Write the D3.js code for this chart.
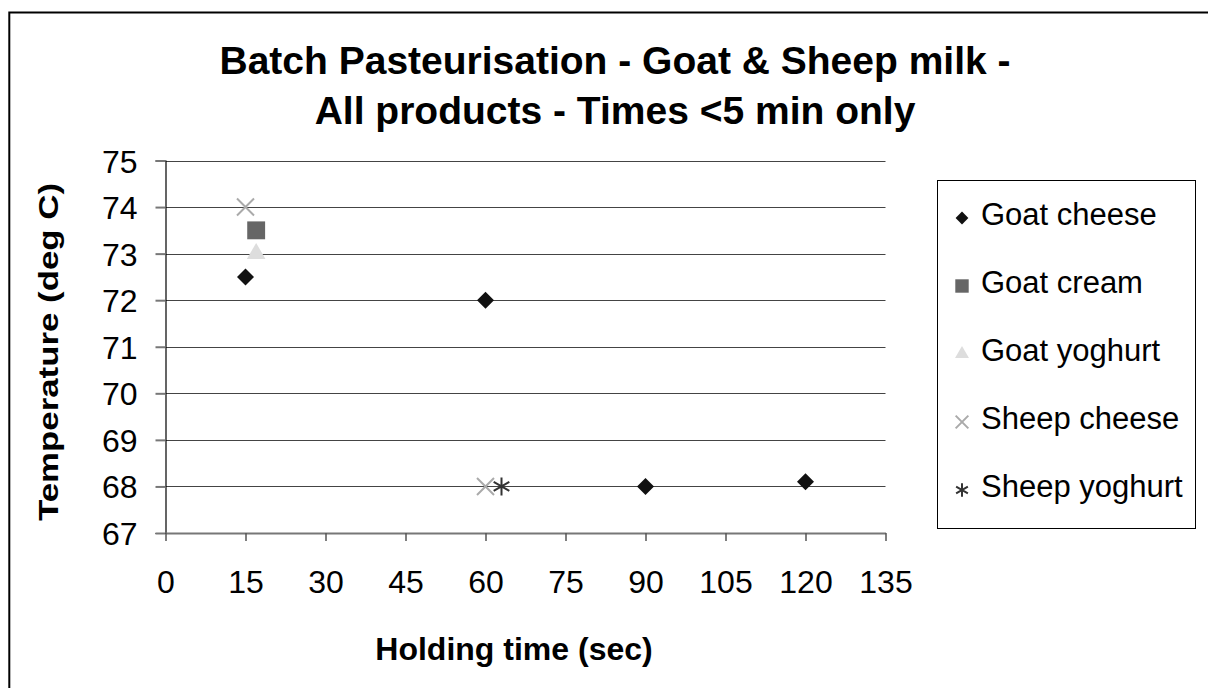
<!DOCTYPE html>
<head>
  <meta charset="utf-8">
  <script src="https://d3js.org/d3.v7.min.js"></script>
  <style>
body { margin:0; background:#fff; }
text { font-family: "Liberation Sans", Arial, sans-serif; fill:#000; }
.title { font-size: 39px; font-weight: bold; }
.axlabel { font-size: 32px; font-weight: bold; }
.tick text { font-size: 32px; font-family: "Liberation Sans", Arial, sans-serif; }
.legend text { font-size: 31px; }
  </style>
</head>
<body>
<script>
// series names
const seriesNames = ['Goat cheese', 'Goat cream', 'Goat yoghurt', 'Sheep cheese', 'Sheep yoghurt']
// holding time (sec) and temperature (deg C) per series
const goatCheeseX = [15, 60, 90, 120]
const goatCheeseY = [72.5, 72, 68, 68.1]
const goatCreamX = [17]
const goatCreamY = [73.5]
const goatYoghurtX = [17]
const goatYoghurtY = [73]
const sheepCheeseX = [15, 60]
const sheepCheeseY = [74, 68]
const sheepYoghurtX = [63]
const sheepYoghurtY = [68]
const xTicks = [0, 15, 30, 45, 60, 75, 90, 105, 120, 135]
const yTicks = [67, 68, 69, 70, 71, 72, 73, 74, 75]

const W = 1208, H = 688
const plot = { left: 165.5, right: 885.5, top: 160.5, bottom: 533 }

const svg = d3.select('body').append('svg').attr('width', W).attr('height', H)

// outer frame (runs off the right/bottom edge)
svg.append('rect').attr('x', 9.3).attr('y', 12.5).attr('width', 1240).attr('height', 720)
  .attr('fill', 'none').attr('stroke', '#000').attr('stroke-width', 2)

const x = d3.scaleLinear().domain([0, 135]).range([plot.left, plot.right])
const y = d3.scaleLinear().domain([67, 75]).range([plot.bottom, plot.top])

// gridlines
svg.append('g').selectAll('line').data(yTicks.filter(d => d > 67))
  .join('line')
  .attr('x1', plot.left).attr('x2', plot.right)
  .attr('y1', d => Math.round(y(d)) + 0.5).attr('y2', d => Math.round(y(d)) + 0.5)
  .attr('stroke', '#444').attr('stroke-width', 1)

// y axis
const yAxis = svg.append('g').attr('transform', `translate(${plot.left},0)`)
  .call(d3.axisLeft(y).tickValues(yTicks).tickSize(10).tickPadding(18).tickFormat(d3.format('d')))
yAxis.select('.domain').attr('stroke', '#000').attr('stroke-width', 1.2)
yAxis.selectAll('.tick line').attr('stroke', '#777').attr('stroke-width', 2)
yAxis.selectAll('.tick text').attr('dy', '0.36em')

// x axis
const xAxis = svg.append('g').attr('transform', `translate(0,${plot.bottom})`)
  .call(d3.axisBottom(x).tickValues(xTicks).tickSize(8).tickPadding(29).tickSizeOuter(0))
xAxis.select('.domain').attr('stroke', '#777').attr('stroke-width', 2)
xAxis.selectAll('.tick line').attr('stroke', '#555').attr('stroke-width', 1.5)

// titles
svg.append('text').attr('class', 'title').attr('x', 615).attr('y', 74)
  .attr('text-anchor', 'middle').text('Batch Pasteurisation - Goat & Sheep milk -')
svg.append('text').attr('class', 'title').attr('x', 615).attr('y', 124)
  .attr('text-anchor', 'middle').text('All products - Times <5 min only')
svg.append('text').attr('class', 'axlabel').attr('x', 514).attr('y', 660)
  .attr('text-anchor', 'middle').text('Holding time (sec)')
svg.append('text').attr('class', 'axlabel')
  .attr('transform', 'translate(58,352) rotate(-90)')
  .attr('text-anchor', 'middle')
  .style('font-size', '27px')
  .attr('textLength', 338).attr('lengthAdjust', 'spacingAndGlyphs')
  .text('Temperature (deg C)')

// marker drawing
const markers = [
  { sym: d3.symbolDiamond2, size: 185, fill: '#111', stroke: 'none' },
  { sym: d3.symbolSquare, size: 320, fill: '#666', stroke: 'none' },
  { sym: d3.symbolTriangle, size: 150, fill: '#ddd', stroke: 'none' },
  { sym: d3.symbolX, size: 190, fill: 'none', stroke: '#aaa' },
  { sym: 'star', size: 0, fill: 'none', stroke: '#333' }
]
const starPath = r => {
  const a = r * 0.87, b = r * 0.5
  return `M${-a},${-b}L${a},${b}M${-a},${b}L${a},${-b}M0,${-r}L0,${r}`
}
function drawMarker(g, m, scale) {
  if (m.sym === 'star') {
    g.append('path').attr('d', starPath(9 * scale)).attr('stroke', m.stroke).attr('stroke-width', 2).attr('fill', 'none')
  } else {
    g.append('path').attr('d', d3.symbol(m.sym, m.size * scale * scale)())
      .attr('fill', m.fill).attr('stroke', m.stroke).attr('stroke-width', m.stroke === 'none' ? 0 : 2)
  }
}

const seriesX = [goatCheeseX, goatCreamX, goatYoghurtX, sheepCheeseX, sheepYoghurtX]
const seriesY = [goatCheeseY, goatCreamY, goatYoghurtY, sheepCheeseY, sheepYoghurtY]
seriesNames.forEach((name, i) => {
  seriesX[i].forEach((xv, j) => {
    const g = svg.append('g').attr('transform', `translate(${x(xv)},${y(seriesY[i][j])})`)
    drawMarker(g, markers[i], 1)
  })
})

// legend
const lg = svg.append('g').attr('class', 'legend')
lg.append('rect').attr('x', 937.5).attr('y', 180.5).attr('width', 258).attr('height', 348)
  .attr('fill', '#fff').attr('stroke', '#000').attr('stroke-width', 1)
seriesNames.forEach((name, i) => {
  const base = 225 + i * 68
  const g = lg.append('g').attr('transform', `translate(962,${base - 7})`)
  drawMarker(g, markers[i], 0.75)
  lg.append('text').attr('x', 981).attr('y', base).text(name)
})
</script>
</body>
